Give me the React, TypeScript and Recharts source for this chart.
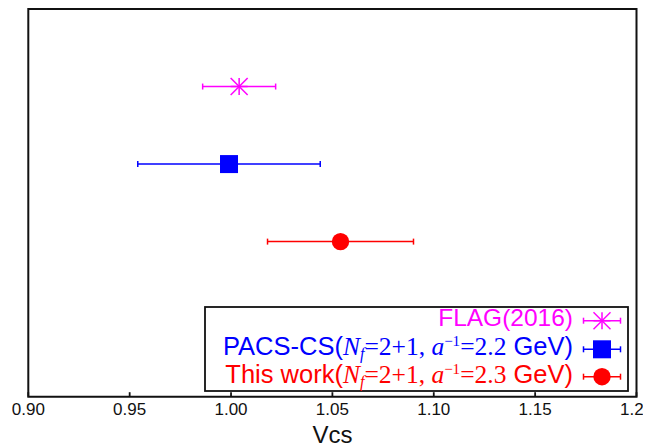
import React from 'react';
import { ScatterChart, Scatter, XAxis, YAxis, ErrorBar, ReferenceArea } from 'recharts';

// ---- data ----
const seriesNames = ['FLAG(2016)', 'PACS-CS', 'This work'];
const seriesColors = ['#ff00ff', '#0000ff', '#ff0000'];
const vcsValues = [1.004, 0.999, 1.054];
const vcsErrors = [0.018, 0.045, 0.036];
const rowPositions = [4, 3, 2];
const xTicks = [0.9, 0.95, 1.0, 1.05, 1.1, 1.15, 1.2];
const xDomain: [number, number] = [0.9, 1.2];
const yDomain: [number, number] = [0, 5];

const makeSeries = (i: number) => [
  { x: vcsValues[i], y: rowPositions[i], err: vcsErrors[i], name: seriesNames[i] },
];
const flagData = makeSeries(0);
const pacsData = makeSeries(1);
const thisData = makeSeries(2);

const SANS = '"Liberation Sans", Arial, sans-serif';
const SERIF = '"Liberation Serif", "Times New Roman", serif';

const StarShape = (props: any) => {
  const { cx, cy } = props;
  const r = 8.5;
  const c = seriesColors[0];
  return (
    <g stroke={c} strokeWidth={1.5}>
      <line x1={cx - r} y1={cy} x2={cx + r} y2={cy} />
      <line x1={cx} y1={cy - r} x2={cx} y2={cy + r} />
      <line x1={cx - r} y1={cy - r} x2={cx + r} y2={cy + r} />
      <line x1={cx - r} y1={cy + r} x2={cx + r} y2={cy - r} />
    </g>
  );
};
const SquareShape = (props: any) => {
  const { cx, cy } = props;
  return <rect x={cx - 9} y={cy - 9} width={18} height={18} fill={seriesColors[1]} />;
};
const CircleShape = (props: any) => {
  const { cx, cy } = props;
  return <circle cx={cx} cy={cy} r={8.7} fill={seriesColors[2]} />;
};

const XTick = (props: any) => {
  const { x, y, payload } = props;
  return (
    <g>
      <line x1={x} x2={x} y1={y} y2={y - 4.5} stroke="#111" strokeWidth={1.8} />
      <text x={x} y={y + 18} textAnchor="middle" fontSize={17} fontFamily={SANS} fill="#111">
        {Number(payload.value).toFixed(2)}
      </text>
    </g>
  );
};

const LegendSymbol = ({ i, cx, cy }: { i: number; cx: number; cy: number }) => {
  const c = seriesColors[i];
  const half = 18.5;
  return (
    <g>
      <g stroke={c} strokeWidth={1.5}>
        <line x1={cx - half} y1={cy} x2={cx + half} y2={cy} />
        <line x1={cx - half} y1={cy - 3} x2={cx - half} y2={cy + 3} />
        <line x1={cx + half} y1={cy - 3} x2={cx + half} y2={cy + 3} />
      </g>
      {i === 0 && <StarShape cx={cx} cy={cy} />}
      {i === 1 && <SquareShape cx={cx} cy={cy} />}
      {i === 2 && <CircleShape cx={cx} cy={cy} />}
    </g>
  );
};

const LegendOverlay = () => {
  const textX = 565;
  const symX = 594;
  const rows = [312.7, 341.3, 368.7];
  const fs = 25.5;
  const mathPart = (label: string) => (
    <>
      <tspan fontFamily={SERIF} fontStyle="italic">N</tspan>
      <tspan fontFamily={SERIF} fontStyle="italic" fontSize={16} dy={4}>f</tspan>
      <tspan fontFamily={SERIF} dy={-4}>=2+1, </tspan>
      <tspan fontFamily={SERIF} fontStyle="italic">a</tspan>
      <tspan fontFamily={SERIF} fontSize={15} dy={-9}>−1</tspan>
      <tspan fontFamily={SERIF} dy={9}>={label}</tspan>
    </>
  );
  return (
    <svg
      width={643}
      height={440}
      style={{ position: 'absolute', left: 0, top: 0, pointerEvents: 'none' }}
    >
      <rect x={197} y={299} width={423} height={84} fill="#fff" stroke="#111" strokeWidth={1.8} />
      <text x={textX} y={rows[0] + 5} textAnchor="end" fontSize={24.5} fontFamily={SANS} fill={seriesColors[0]}>
        {seriesNames[0]}
      </text>
      <text x={textX} y={rows[1] + 6} textAnchor="end" fontSize={fs} fontFamily={SANS} fill={seriesColors[1]}>
        <tspan>{seriesNames[1]}(</tspan>
        {mathPart('2.2')}
        <tspan> GeV)</tspan>
      </text>
      <text x={textX} y={rows[2] + 6} textAnchor="end" fontSize={fs} fontFamily={SANS} fill={seriesColors[2]}>
        <tspan>{seriesNames[2]}(</tspan>
        {mathPart('2.3')}
        <tspan> GeV)</tspan>
      </text>
      {rows.map((cy, i) => (
        <LegendSymbol key={i} i={i} cx={symX} cy={cy} />
      ))}
    </svg>
  );
};

export default function App() {
  return (
    <div style={{ position: 'relative', width: 643, height: 440 }}>
      <ScatterChart
        width={643}
        height={440}
        margin={{ top: 1, right: 14.5, left: 20.3, bottom: 0 }}
      >
        <XAxis
          type="number"
          dataKey="x"
          domain={xDomain}
          ticks={xTicks}
          interval={0}
          allowDataOverflow
          axisLine={false}
          tickLine={false}
          tickSize={0}
          tickMargin={0}
          tick={XTick}
          height={51.3}
          label={{ value: 'Vcs', position: 'insideBottom', offset: 5, fontSize: 24, fontFamily: SANS, fill: '#111' }}
        />
        <YAxis type="number" dataKey="y" domain={yDomain} hide />
        <ReferenceArea
          x1={xDomain[0]}
          x2={xDomain[1]}
          y1={yDomain[0]}
          y2={yDomain[1]}
          fill="none"
          fillOpacity={0}
          stroke="#111"
          strokeWidth={2}
          strokeOpacity={1}
          ifOverflow="visible"
        />
        <Scatter data={flagData} shape={StarShape} isAnimationActive={false}>
          <ErrorBar dataKey="err" direction="x" width={3} stroke={seriesColors[0]} strokeWidth={1.5} />
        </Scatter>
        <Scatter data={pacsData} shape={SquareShape} isAnimationActive={false}>
          <ErrorBar dataKey="err" direction="x" width={3} stroke={seriesColors[1]} strokeWidth={1.5} />
        </Scatter>
        <Scatter data={thisData} shape={CircleShape} isAnimationActive={false}>
          <ErrorBar dataKey="err" direction="x" width={3} stroke={seriesColors[2]} strokeWidth={1.5} />
        </Scatter>
      </ScatterChart>
      <LegendOverlay />
    </div>
  );
}
